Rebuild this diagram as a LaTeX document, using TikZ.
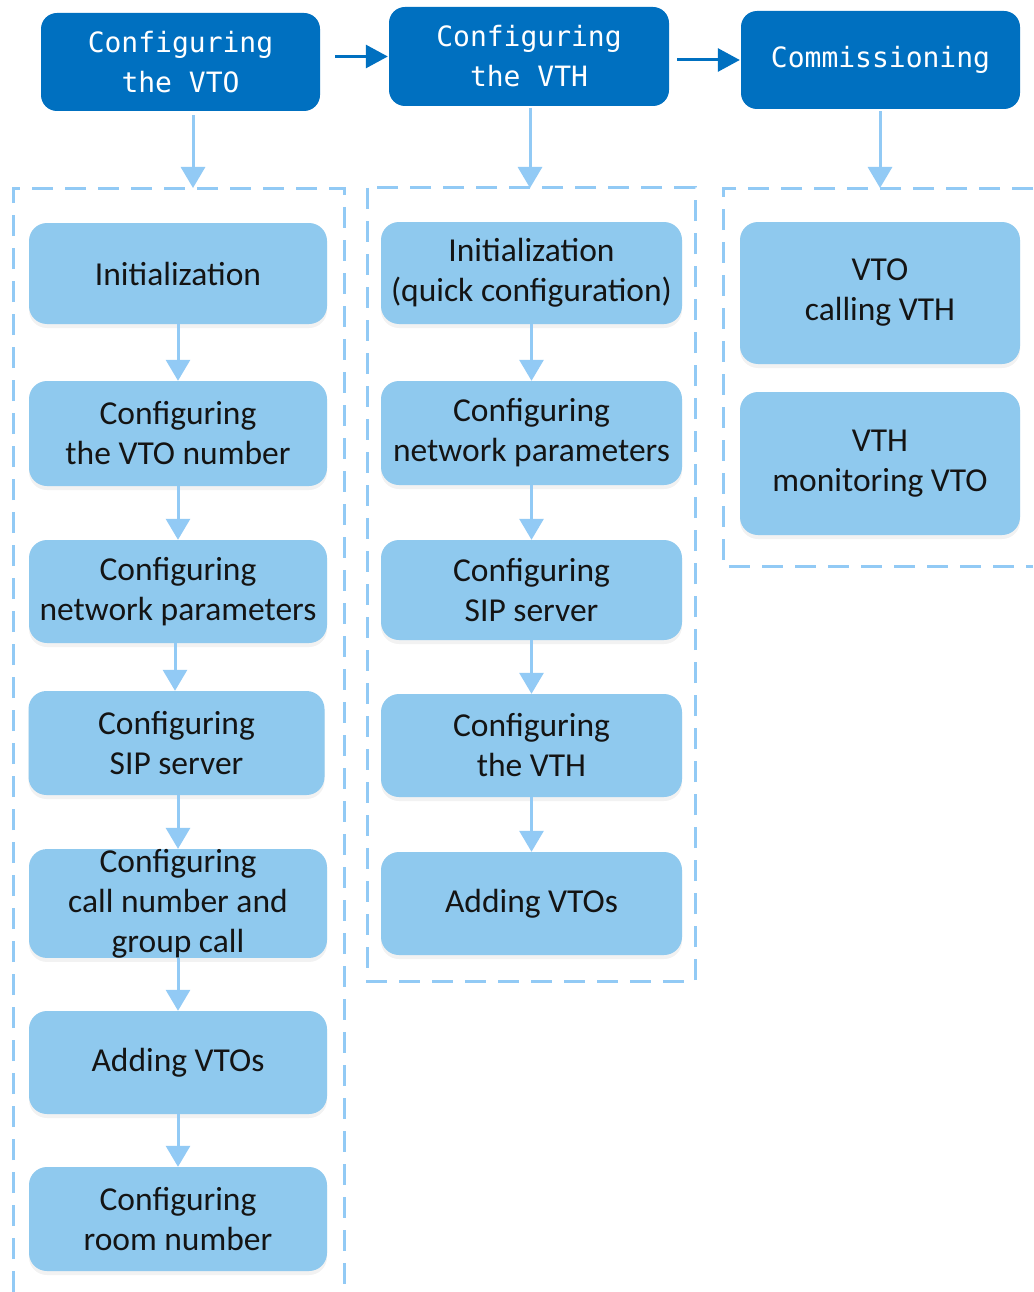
\documentclass[tikz,border=0pt]{standalone}
\usepackage{fontspec}
\setmainfont{Carlito}
\newfontfamily\hdrfont{DejaVu Sans Mono}
\usetikzlibrary{arrows.meta,shadows}
\definecolor{hdrblue}{RGB}{0,112,192}
\definecolor{boxblue}{RGB}{143,201,238}
\definecolor{lineblue}{RGB}{146,202,245}
\tikzset{
  hdr/.style={draw=none, fill=hdrblue, rounded corners=16pt, inner sep=0pt,
    text=white, align=center, font={\hdrfont\fontsize{28}{40}\selectfont}},
  stepbox/.style={draw=none, fill=boxblue, rounded corners=18pt, inner sep=0pt,
    align=center, text=black!92, font={\fontsize{33.5}{40}\selectfont},
    drop shadow={opacity=0.1, shadow xshift=0pt, shadow yshift=-4pt}},
  flow/.style={draw=lineblue, line width=3pt,
    -{Triangle[width=24pt,length=21pt]}},
  harrow/.style={draw=hdrblue, line width=3pt,
    -{Triangle[width=23pt,length=22pt]}},
  group/.style={draw=lineblue, line width=3pt, dash pattern=on 21pt off 12pt}
}
\begin{document}
\begin{tikzpicture}[x=1pt,y=-1pt]
\useasboundingbox[fill=white] (0,0) rectangle (1033,1292);

% headers
\node[hdr, minimum width=279pt, minimum height=98pt] (h1) at (180.5,62) {Configuring\\the VTO};
\node[hdr, minimum width=280pt, minimum height=99pt] (h2) at (529,56.5) {Configuring\\the VTH};
\node[hdr, minimum width=279pt, minimum height=98pt] (h3) at (880.5,60) {Commissioning};

\draw[harrow, shorten <=15pt, shorten >=1pt] (h1.east |- h2.west) -- (h2.west);
\draw[harrow, shorten <=8pt, shorten >=1pt] (h2.east |- h3.west) -- (h3.west);

% dashed groups
\draw[group] (13,1292) -- (13,189) -- (344,189) -- (344,1292);
\draw[group] (367,188) rectangle (695,981);
\draw[group] (1033,189) -- (723,189) -- (723,566) -- (1033,566);

\coordinate (d1) at (193,188);
\coordinate (d2) at (530,188);
\coordinate (d3) at (880,188);
\draw[flow, shorten <=4pt] (d1 |- h1.south) -- (d1);
\draw[flow, shorten <=2pt] (d2 |- h2.south) -- (d2);
\draw[flow, shorten <=2pt] (d3 |- h3.south) -- (d3);

% left column
\node[stepbox, minimum width=298pt, minimum height=101pt] (l1) at (178,273.5) {Initialization};
\node[stepbox, minimum width=298pt, minimum height=105pt] (l2) at (178,433.5) {Configuring\\the VTO number};
\node[stepbox, minimum width=298pt, minimum height=103pt] (l3) at (178,591.5) {Configuring\\network parameters};
\node[stepbox, minimum width=296pt, minimum height=104pt] (l4) at (176.5,743) {Configuring\\SIP server};
\node[stepbox, minimum width=298pt, minimum height=103pt] (l5) at (178,903.5) {Configuring\\call number and\\group call};
\node[stepbox, minimum width=298pt, minimum height=103pt] (l6) at (178,1062.5) {Adding VTOs};
\node[stepbox, minimum width=298pt, minimum height=104pt] (l7) at (178,1219) {Configuring\\room number};

\draw[flow] (l1) -- (l2);
\draw[flow] (l2) -- (l3);
\draw[flow] (l3.south -| 175,0) -- (l4.north -| 175,0);
\draw[flow] (l4.south -| 178,0) -- (l5.north -| 178,0);
\draw[flow] (l5) -- (l6);
\draw[flow] (l6) -- (l7);

% middle column
\node[stepbox, minimum width=301pt, minimum height=102pt] (m1) at (531.5,273) {Initialization\\(quick configuration)};
\node[stepbox, minimum width=301pt, minimum height=104pt] (m2) at (531.5,433) {Configuring\\network parameters};
\node[stepbox, minimum width=301pt, minimum height=100pt] (m3) at (531.5,590) {Configuring\\SIP server};
\node[stepbox, minimum width=301pt, minimum height=103pt] (m4) at (531.5,745.5) {Configuring\\the VTH};
\node[stepbox, minimum width=301pt, minimum height=103pt] (m5) at (531.5,903.5) {Adding VTOs};

\draw[flow] (m1) -- (m2);
\draw[flow] (m2) -- (m3);
\draw[flow] (m3) -- (m4);
\draw[flow] (m4) -- (m5);

% right column
\node[stepbox, minimum width=280pt, minimum height=142pt] (r1) at (880,293) {VTO\\calling VTH};
\node[stepbox, minimum width=280pt, minimum height=143pt] (r2) at (880,463.5) {VTH\\monitoring VTO};
\end{tikzpicture}
\end{document}
